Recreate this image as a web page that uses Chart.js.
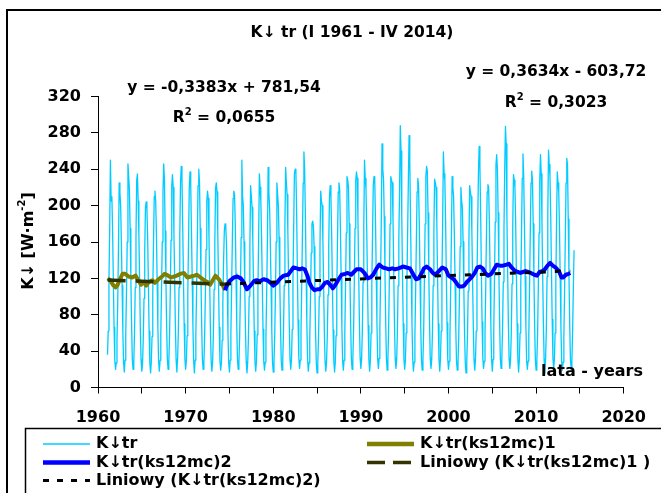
<!DOCTYPE html>
<html>
<head>
<meta charset="utf-8">
<script src="https://cdn.jsdelivr.net/npm/chart.js@4.4.1/dist/chart.umd.min.js"></script>
<style>
  html, body { margin: 0; padding: 0; background: #ffffff; }
  canvas { display: block; }
</style>
</head>
<body>
<canvas id="chart" width="661" height="493"></canvas>
<script>
// Monthly global solar radiation K↓ [W·m-2], one row per year (Jan..Dec), from 1961
const firstYear = 1961;
const kDownMonthly = [
  [36, 62, 118, 175, 250, 205, 210, 172, 118, 66, 30, 20],   // 1961
  [27, 52, 92, 150, 225, 215, 200, 160, 112, 62, 28, 17],
  [30, 58, 105, 160, 246, 232, 218, 175, 120, 70, 31, 20],
  [28, 60, 110, 165, 228, 235, 205, 168, 118, 64, 30, 18],
  [26, 54, 98, 150, 198, 204, 196, 165, 115, 62, 27, 16],    // 1965
  [28, 56, 104, 158, 210, 216, 205, 170, 118, 66, 29, 18],
  [30, 58, 108, 160, 215, 246, 228, 172, 120, 68, 31, 20],
  [29, 57, 106, 162, 222, 234, 220, 170, 118, 67, 30, 17],
  [31, 60, 110, 168, 225, 243, 230, 178, 122, 70, 31, 20],
  [29, 57, 104, 160, 220, 237, 222, 172, 120, 67, 30, 16],   // 1970
  [30, 58, 107, 163, 222, 240, 226, 175, 121, 68, 31, 20],
  [27, 54, 100, 152, 205, 216, 208, 165, 114, 62, 28, 18],
  [29, 58, 108, 160, 219, 225, 215, 172, 118, 66, 30, 19],
  [27, 52, 95, 140, 172, 180, 176, 158, 112, 60, 27, 17],
  [30, 60, 110, 162, 208, 216, 212, 180, 125, 70, 31, 20],   // 1975
  [28, 56, 104, 165, 250, 210, 200, 160, 110, 62, 28, 16],
  [27, 54, 100, 155, 222, 210, 198, 162, 112, 62, 28, 18],
  [29, 58, 106, 165, 235, 220, 205, 165, 115, 64, 29, 19],
  [28, 56, 104, 162, 242, 215, 198, 160, 112, 63, 28, 17],
  [28, 56, 103, 160, 225, 212, 200, 165, 114, 64, 29, 19],   // 1980
  [30, 60, 112, 180, 242, 225, 212, 172, 120, 68, 30, 20],
  [32, 64, 118, 178, 235, 240, 238, 195, 132, 74, 33, 21],
  [30, 60, 112, 170, 225, 259, 240, 190, 128, 72, 32, 18],
  [27, 54, 98, 148, 180, 183, 178, 155, 108, 60, 26, 16],
  [27, 55, 100, 155, 216, 205, 200, 162, 112, 62, 28, 18],   // 1985
  [28, 56, 102, 156, 210, 222, 210, 168, 115, 63, 28, 17],
  [28, 57, 105, 162, 215, 225, 218, 175, 120, 67, 30, 19],
  [30, 60, 112, 170, 232, 228, 220, 180, 124, 70, 31, 20],
  [31, 62, 115, 175, 228, 237, 230, 185, 128, 72, 32, 21],
  [31, 62, 116, 178, 250, 230, 218, 175, 120, 68, 30, 18],   // 1990
  [30, 60, 112, 170, 222, 232, 228, 185, 128, 72, 32, 21],
  [32, 64, 120, 185, 268, 240, 230, 188, 128, 72, 32, 19],
  [31, 63, 118, 180, 232, 228, 225, 185, 128, 72, 32, 21],
  [30, 60, 112, 165, 215, 288, 260, 190, 125, 70, 31, 20],
  [30, 60, 112, 168, 225, 277, 250, 185, 124, 70, 31, 18],   // 1995
  [28, 57, 106, 160, 215, 230, 222, 180, 122, 68, 30, 19],
  [31, 62, 118, 180, 232, 243, 238, 192, 130, 73, 32, 21],
  [30, 60, 112, 172, 229, 225, 220, 182, 125, 70, 31, 18],
  [31, 62, 118, 182, 259, 235, 228, 185, 126, 71, 31, 20],
  [29, 58, 108, 168, 232, 220, 210, 170, 116, 65, 29, 19],   // 2000
  [27, 54, 100, 155, 220, 205, 198, 160, 110, 60, 27, 16],
  [28, 57, 106, 162, 222, 215, 210, 172, 118, 66, 30, 19],
  [31, 62, 118, 178, 235, 265, 245, 195, 130, 72, 32, 21],
  [29, 58, 110, 168, 215, 223, 220, 180, 124, 70, 31, 18],
  [31, 63, 120, 182, 245, 256, 240, 192, 130, 73, 32, 21],   // 2005
  [31, 62, 116, 175, 240, 287, 268, 188, 128, 72, 32, 21],
  [30, 60, 114, 178, 234, 228, 220, 182, 124, 70, 31, 17],
  [30, 60, 112, 170, 230, 257, 232, 180, 122, 68, 30, 20],
  [29, 58, 110, 168, 225, 238, 228, 180, 122, 68, 30, 19],
  [29, 58, 110, 170, 228, 256, 235, 182, 124, 69, 30, 16],   // 2010
  [32, 64, 122, 190, 261, 245, 232, 190, 132, 75, 33, 21],
  [30, 60, 115, 182, 237, 225, 215, 175, 120, 66, 29, 19],
  [28, 56, 106, 165, 225, 252, 245, 185, 124, 70, 31, 20],
  [30, 62, 110, 151]                                          // 2014 (I-IV)
];

// 12-month moving average, part 1 (1961-1974)
const maOneYears  = [1961.1, 1961.4, 1961.7, 1962.0, 1962.2, 1962.5, 1962.8, 1963.1, 1963.5, 1963.9,
                     1964.3, 1964.6, 1964.9, 1965.2, 1965.5, 1965.8, 1966.2, 1966.5, 1966.9, 1967.3,
                     1967.6, 1968.0, 1968.3, 1968.7, 1969.0, 1969.4, 1969.8, 1970.2, 1970.6, 1971.0,
                     1971.3, 1971.7, 1972.1, 1972.5, 1972.8, 1973.1, 1973.4, 1973.8, 1974.2, 1974.5];
const maOneValues = [120, 118, 113, 110, 112, 119, 125, 125, 122, 121,
                     123, 118, 113, 116, 112, 116, 118, 115, 119, 122,
                     125, 123, 121, 122, 123, 125, 126, 121, 122, 123,
                     124, 121, 118, 116, 113, 118, 123, 119, 113, 107];

// 12-month moving average, part 2 (1974-2014)
const maTwoYears  = [1974.5, 1974.7, 1975.0, 1975.5, 1975.9, 1976.3, 1976.6, 1977.0, 1977.4, 1977.8,
                     1978.1, 1978.5, 1978.9, 1979.3, 1979.7, 1980.0, 1980.4, 1980.8, 1981.2, 1981.7,
                     1982.0, 1982.3, 1982.7, 1983.0, 1983.3, 1983.6, 1983.9, 1984.1, 1984.4, 1984.7,
                     1985.0, 1985.3, 1985.6, 1985.9, 1986.2, 1986.5, 1986.8, 1987.1, 1987.4, 1987.8,
                     1988.2, 1988.5, 1988.9, 1989.2, 1989.5, 1990.0, 1990.4, 1990.8, 1991.1, 1991.4,
                     1991.8, 1992.1, 1992.5, 1992.9, 1993.2, 1993.6, 1993.9, 1994.3, 1994.8, 1995.2,
                     1995.6, 1996.0, 1996.3, 1996.6, 1996.9, 1997.2, 1997.5, 1997.9, 1998.2, 1998.5,
                     1998.9, 1999.3, 1999.7, 2000.0, 2000.3, 2000.6, 2000.9, 2001.2, 2001.5, 2001.8,
                     2002.1, 2002.4, 2002.7, 2003.0, 2003.3, 2003.6, 2003.9, 2004.2, 2004.5, 2004.9,
                     2005.2, 2005.5, 2005.9, 2006.2, 2006.6, 2006.9, 2007.2, 2007.5, 2007.9, 2008.2,
                     2008.5, 2008.8, 2009.1, 2009.4, 2009.8, 2010.1, 2010.4, 2010.7, 2011.0, 2011.3,
                     2011.6, 2011.9, 2012.2, 2012.6, 2012.9, 2013.1, 2013.4, 2013.7, 2013.9];
const maTwoValues = [107, 112, 117, 121, 122, 120, 116, 108, 112, 117,
                     118, 117, 119, 118, 115, 112, 115, 120, 123, 124,
                     128, 132, 131, 130, 131, 130, 123, 116, 110, 107,
                     108, 108, 111, 115, 116, 113, 109, 113, 118, 124,
                     125, 126, 124, 127, 130, 130, 126, 120, 121, 124,
                     131, 135, 132, 131, 130, 131, 130, 131, 133, 132,
                     131, 124, 119, 120, 125, 131, 133, 130, 126, 124,
                     128, 132, 130, 123, 121, 119, 115, 111, 111, 112,
                     116, 119, 122, 126, 132, 133, 131, 126, 123, 125,
                     130, 135, 134, 134, 135, 136, 132, 129, 127, 126,
                     127, 128, 127, 126, 124, 123, 127, 128, 130, 134,
                     137, 134, 132, 128, 121, 121, 124, 125, 126];

// Linear trends: [slope, intercept, R²]
const trendOne = [-0.3383, 781.54, 0.0655];
const trendTwo = [0.3634, -603.72, 0.3023];

const seriesNames = ['K↓tr', 'K↓tr(ks12mc)1', 'K↓tr(ks12mc)2',
                     'Liniowy (K↓tr(ks12mc)1 )', 'Liniowy (K↓tr(ks12mc)2)'];
const titleText = 'K↓ tr (I 1961 - IV 2014)';
const xAxisText = 'lata - years';
const yAxisText = ['K↓ [W·m', '-2', ']'];
const xRange = [1960, 2020, 5];
const yRange = [0, 320, 40];

// ---- build datasets ----
const monthlyPoints = [];
kDownMonthly.forEach((row, i) => {
  row.forEach((v, m) => monthlyPoints.push({ x: firstYear + i + (m + 1) / 12, y: v }));
});
const zip = (xs, ys) => xs.map((x, i) => ({ x, y: ys[i] }));
const trendLine = (t, x0, x1) => [{ x: x0, y: t[0] * x0 + t[1] }, { x: x1, y: t[0] * x1 + t[1] }];

const FONT = '"DejaVu Sans", sans-serif';
const bold = s => `bold ${s}px ${FONT}`;
const comma = (v, d) => v.toFixed(d).replace('.', ',');
const eqText = t => 'y = ' + comma(t[0], 4) + 'x ' + (t[1] < 0 ? '- ' : '+ ') + comma(Math.abs(t[1]), 2);

function drawRuns(ctx, runs, cx, cy) {
  let total = 0;
  runs.forEach(r => { ctx.font = bold(r.size); r.w = ctx.measureText(r.t).width; total += r.w; });
  let x = cx - total / 2;
  ctx.textAlign = 'left';
  ctx.textBaseline = 'middle';
  runs.forEach(r => { ctx.font = bold(r.size); ctx.fillText(r.t, x, cy - (r.rise || 0)); x += r.w; });
}

const decorations = {
  id: 'decorations',
  afterDraw(chart) {
    const ctx = chart.ctx;
    ctx.save();
    ctx.fillStyle = '#000';
    ctx.strokeStyle = '#000';

    // outer frame
    ctx.lineWidth = 2;
    ctx.strokeRect(7, 10, 900, 900);

    // title
    drawRuns(ctx, [{ t: titleText, size: 15.5 }], 352, 33);

    // trend equations
    drawRuns(ctx, [{ t: eqText(trendOne), size: 15.5 }], 224, 88);
    drawRuns(ctx, [{ t: 'R', size: 15.5 }, { t: '2', size: 10, rise: 6 },
                   { t: ' = ' + comma(trendOne[2], 4), size: 15.5 }], 224, 118);
    drawRuns(ctx, [{ t: eqText(trendTwo), size: 15.5 }], 556, 72);
    drawRuns(ctx, [{ t: 'R', size: 15.5 }, { t: '2', size: 10, rise: 6 },
                   { t: ' = ' + comma(trendTwo[2], 4), size: 15.5 }], 556, 103);

    // x axis caption
    drawRuns(ctx, [{ t: xAxisText, size: 16 }], 592, 372);

    // y axis caption (rotated)
    ctx.save();
    ctx.translate(29, 241);
    ctx.rotate(-Math.PI / 2);
    drawRuns(ctx, [{ t: yAxisText[0], size: 16 }, { t: yAxisText[1], size: 10, rise: 7 },
                   { t: yAxisText[2], size: 16 }], 0, 0);
    ctx.restore();

    // legend box
    ctx.lineWidth = 1.5;
    ctx.strokeRect(25.5, 428.5, 900, 200);
    const ds = chart.data.datasets;
    const items = [
      { i: 0, x: 43, y: 444 }, { i: 1, x: 367, y: 444 },
      { i: 2, x: 43, y: 462.5 }, { i: 3, x: 367, y: 462.5 },
      { i: 4, x: 43, y: 480.5 }
    ];
    items.forEach(it => {
      const d = ds[it.i];
      ctx.save();
      ctx.strokeStyle = d.borderColor;
      ctx.lineWidth = d.legendWidth;
      ctx.setLineDash(d.legendDash || []);
      ctx.beginPath();
      ctx.moveTo(it.x, it.y);
      ctx.lineTo(it.x + 47, it.y);
      ctx.stroke();
      ctx.restore();
      ctx.font = bold(16);
      ctx.textAlign = 'left';
      ctx.textBaseline = 'middle';
      ctx.fillText(d.label, it.x + 53, it.y);
    });
    ctx.restore();
  }
};

new Chart(document.getElementById('chart'), {
  type: 'line',
  data: {
    datasets: [
      { label: seriesNames[0], data: monthlyPoints, borderColor: '#00CCFF', borderWidth: 1.3,
        legendWidth: 1.5, order: 5 },
      { label: seriesNames[1], data: zip(maOneYears, maOneValues), borderColor: '#808000', borderWidth: 4,
        legendWidth: 4.5, order: 4 },
      { label: seriesNames[2], data: zip(maTwoYears, maTwoValues), borderColor: '#0000FF', borderWidth: 4,
        legendWidth: 4.5, order: 3 },
      { label: seriesNames[3], data: trendLine(trendOne, maOneYears[0], maOneYears[maOneYears.length - 1]),
        borderColor: '#333300', borderWidth: 3.5, borderDash: [18, 10],
        legendWidth: 3.5, legendDash: [18, 8], order: 2 },
      { label: seriesNames[4], data: trendLine(trendTwo, maTwoYears[0], maTwoYears[maTwoYears.length - 1]),
        borderColor: '#000000', borderWidth: 3, borderDash: [6, 9],
        legendWidth: 3, legendDash: [6, 8], order: 1 }
    ]
  },
  options: {
    responsive: false,
    animation: false,
    events: [],
    devicePixelRatio: 1,
    elements: { point: { radius: 0 }, line: { tension: 0, borderJoinStyle: 'round' } },
    layout: { padding: { top: 96.5, right: 34.3, bottom: 0, left: 0 } },
    plugins: { legend: { display: false }, title: { display: false }, tooltip: { enabled: false } },
    scales: {
      x: {
        type: 'linear',
        min: xRange[0], max: xRange[1],
        afterFit: s => { s.height = 105.5; },
        border: { display: true, color: '#000', width: 1 },
        grid: { drawOnChartArea: false, drawTicks: true, tickLength: 6, color: '#000' },
        ticks: {
          stepSize: xRange[2], autoSkip: false, maxRotation: 0, padding: 15, color: '#000',
          font: { family: FONT, size: 16, weight: 'bold' },
          callback: v => (v % 10 === 0 ? String(v) : '')
        }
      },
      y: {
        min: yRange[0], max: yRange[1],
        afterFit: s => { s.width = 98; },
        border: { display: true, color: '#000', width: 1 },
        grid: { drawOnChartArea: false, drawTicks: true, tickLength: 7, color: '#000' },
        ticks: {
          stepSize: yRange[2], padding: 10, color: '#000',
          font: { family: FONT, size: 16, weight: 'bold' },
          callback: v => String(v)
        }
      }
    }
  },
  plugins: [decorations]
});
</script>
</body>
</html>
